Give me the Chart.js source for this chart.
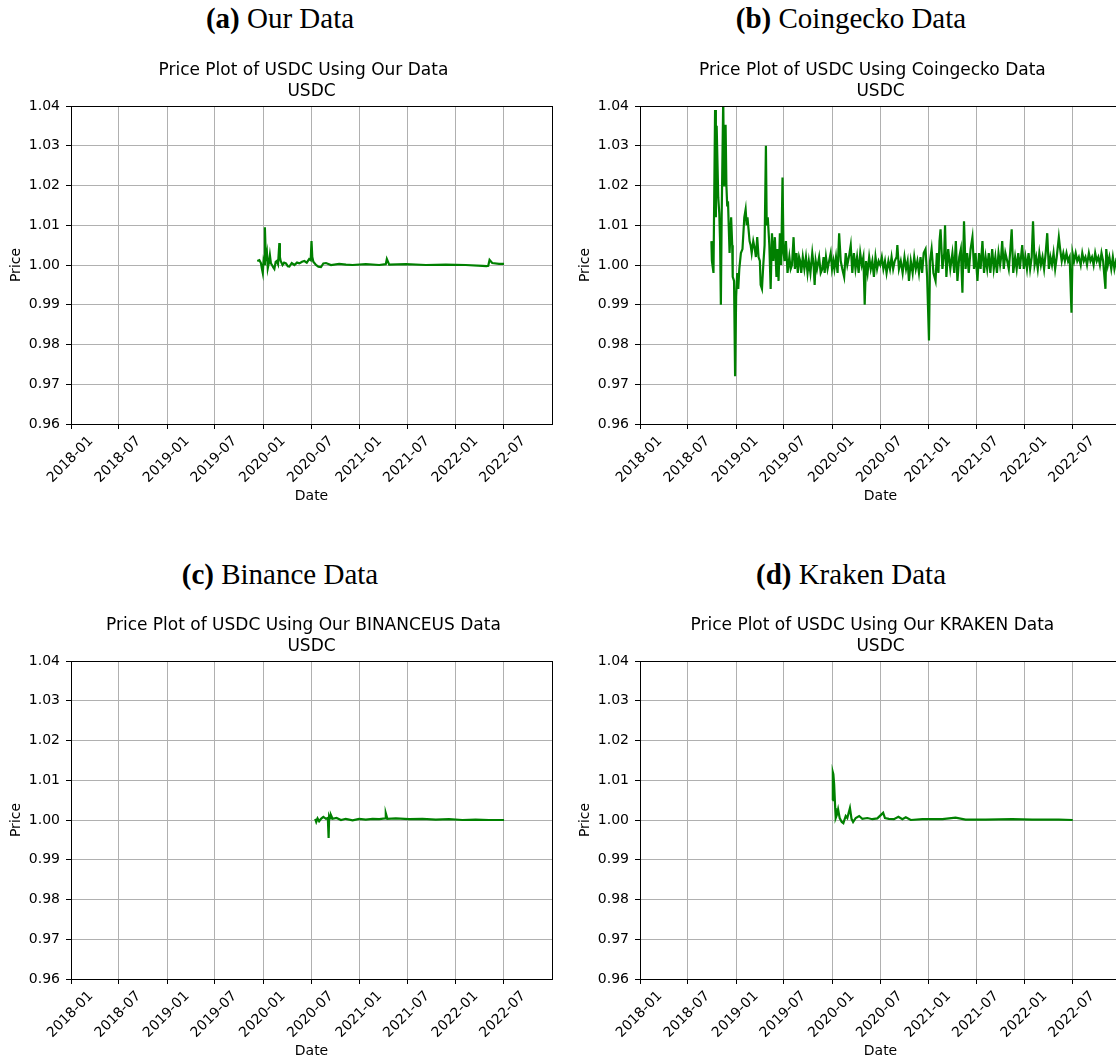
<!DOCTYPE html>
<html>
<head>
<meta charset="utf-8">
<script src="https://cdn.jsdelivr.net/npm/chart.js@4.4.1/dist/chart.umd.min.js"></script>
<style>
  html, body { margin: 0; padding: 0; background: #fff; }
  body { width: 1116px; height: 1061px; position: relative; overflow: hidden; }
  .cap { position: absolute; width: 560px; text-align: center; font-family: "Liberation Serif", "Times New Roman", serif; font-size: 29px; line-height: 34px; color: #000; }
  .panel { position: absolute; width: 560px; height: 460px; }
</style>
</head>
<body>
<div class="cap" style="left:0;top:1px"><b>(a)</b> Our Data</div>
<div class="cap" style="left:571px;top:1px"><b>(b)</b> Coingecko Data</div>
<div class="cap" style="left:0;top:557px"><b>(c)</b> Binance Data</div>
<div class="cap" style="left:571px;top:557px"><b>(d)</b> Kraken Data</div>

<div class="panel" style="left:0;top:50px"><canvas id="chartA" width="560" height="460"></canvas></div>
<div class="panel" style="left:569px;top:50px"><canvas id="chartB" width="560" height="460"></canvas></div>
<div class="panel" style="left:0;top:605px"><canvas id="chartC" width="560" height="460"></canvas></div>
<div class="panel" style="left:569px;top:605px"><canvas id="chartD" width="560" height="460"></canvas></div>

<script>
// axis setup shared by all four panels
const xMin = '2018-01-01';
const xMax = '2023-01-01';
const xTickDates = ['2018-01-01', '2018-07-01', '2019-01-01', '2019-07-01', '2020-01-01',
  '2020-07-01', '2021-01-01', '2021-07-01', '2022-01-01', '2022-07-01'];
const xTickLabels = ['2018-01', '2018-07', '2019-01', '2019-07', '2020-01',
  '2020-07', '2021-01', '2021-07', '2022-01', '2022-07'];
const yTicks = [0.96, 0.97, 0.98, 0.99, 1.00, 1.01, 1.02, 1.03, 1.04];

// (a) our data
const ourDates = [
  '2019-12-09', '2019-12-17', '2019-12-23', '2019-12-27', '2019-12-30',
  '2020-01-02', '2020-01-05', '2020-01-07', '2020-01-11', '2020-01-15',
  '2020-01-18', '2020-01-22', '2020-01-26', '2020-01-30', '2020-02-03',
  '2020-02-08', '2020-02-12', '2020-02-17', '2020-02-21', '2020-02-26',
  '2020-03-02', '2020-03-04', '2020-03-07', '2020-03-14', '2020-03-20',
  '2020-03-27', '2020-04-03', '2020-04-09', '2020-04-18', '2020-04-28',
  '2020-05-08', '2020-05-17', '2020-05-27', '2020-06-05', '2020-06-14',
  '2020-06-23', '2020-06-29', '2020-07-02', '2020-07-05', '2020-07-09',
  '2020-07-19', '2020-07-28', '2020-08-07', '2020-08-16', '2020-08-26',
  '2020-09-14', '2020-10-15', '2020-11-10', '2020-12-05', '2021-01-24',
  '2021-03-16', '2021-04-10', '2021-04-14', '2021-04-23', '2021-06-25',
  '2021-09-09', '2021-11-24', '2022-02-07', '2022-04-12', '2022-04-27',
  '2022-05-04', '2022-05-09', '2022-05-19', '2022-06-14', '2022-07-03'];
const ourPrices = [
  1.0010, 1.0012, 1.0005, 0.9990, 0.9980,
  1.0010, 1.0002, 1.0095, 1.0010, 1.0028,
  0.9992, 1.0005, 1.0025, 1.0004, 1.0000,
  0.9994, 0.9990, 1.0008, 1.0010, 1.0002,
  1.0055, 1.0020, 1.0010, 1.0000, 1.0006,
  1.0004, 0.9997, 0.9996, 1.0005, 1.0000,
  1.0006, 1.0004, 1.0008, 1.0010, 1.0006,
  1.0015, 1.0012, 1.0060, 1.0020, 1.0008,
  1.0000, 0.9996, 0.9995, 1.0004, 1.0005,
  1.0000, 1.0003, 1.0001, 1.0000, 1.0002,
  1.0000, 1.0002, 1.0015, 1.0001, 1.0002,
  1.0000, 1.0001, 1.0000, 0.9998, 0.9997,
  0.9998, 1.0013, 1.0005, 1.0003, 1.0003];

// (b) coingecko, one month per line
const cgDates = [
  '2018-09-29',
  '2018-10-01', '2018-10-07', '2018-10-13', '2018-10-16', '2018-10-19', '2018-10-25', '2018-10-29',
  '2018-11-01', '2018-11-04', '2018-11-07', '2018-11-13', '2018-11-16', '2018-11-19', '2018-11-22', '2018-11-25', '2018-11-28',
  '2018-12-01', '2018-12-07', '2018-12-13', '2018-12-17', '2018-12-19', '2018-12-24', '2018-12-28',
  '2019-01-01', '2019-01-05', '2019-01-09', '2019-01-13', '2019-01-19', '2019-01-25',
  '2019-02-01', '2019-02-06', '2019-02-10', '2019-02-13', '2019-02-17', '2019-02-21', '2019-02-25',
  '2019-03-01', '2019-03-07', '2019-03-13', '2019-03-17', '2019-03-22', '2019-03-27',
  '2019-04-01', '2019-04-04', '2019-04-09', '2019-04-14', '2019-04-19', '2019-04-24', '2019-04-27',
  '2019-05-01', '2019-05-07', '2019-05-12', '2019-05-17', '2019-05-22', '2019-05-28',
  '2019-06-03', '2019-06-07', '2019-06-11', '2019-06-16', '2019-06-21', '2019-06-26', '2019-06-30',
  '2019-07-04', '2019-07-09', '2019-07-15', '2019-07-22', '2019-07-27',
  '2019-08-01', '2019-08-07', '2019-08-12', '2019-08-18', '2019-08-23', '2019-08-28',
  '2019-09-01', '2019-09-05', '2019-09-11', '2019-09-17', '2019-09-23', '2019-09-29',
  '2019-10-04', '2019-10-10', '2019-10-17', '2019-10-22', '2019-10-26', '2019-10-30',
  '2019-11-04', '2019-11-12', '2019-11-18', '2019-11-24', '2019-11-29',
  '2019-12-03', '2019-12-08', '2019-12-14', '2019-12-20', '2019-12-26', '2019-12-31',
  '2020-01-05', '2020-01-09', '2020-01-15', '2020-01-21', '2020-01-27',
  '2020-02-02', '2020-02-08', '2020-02-15', '2020-02-21', '2020-02-27',
  '2020-03-04', '2020-03-11', '2020-03-17', '2020-03-23', '2020-03-29',
  '2020-04-04', '2020-04-10', '2020-04-16', '2020-04-22', '2020-04-28',
  '2020-05-03', '2020-05-08', '2020-05-14', '2020-05-20', '2020-05-26',
  '2020-06-01', '2020-06-07', '2020-06-13', '2020-06-19', '2020-06-25',
  '2020-07-01', '2020-07-07', '2020-07-13', '2020-07-19', '2020-07-25',
  '2020-08-01', '2020-08-07', '2020-08-13', '2020-08-19', '2020-08-25',
  '2020-09-01', '2020-09-04', '2020-09-10', '2020-09-17', '2020-09-24',
  '2020-10-01', '2020-10-07', '2020-10-13', '2020-10-18', '2020-10-25',
  '2020-11-01', '2020-11-07', '2020-11-13', '2020-11-19', '2020-11-25',
  '2020-12-01', '2020-12-07', '2020-12-13', '2020-12-20', '2020-12-26',
  '2021-01-02', '2021-01-06', '2021-01-12', '2021-01-19', '2021-01-27',
  '2021-02-01', '2021-02-07', '2021-02-11', '2021-02-15', '2021-02-22',
  '2021-03-01', '2021-03-04', '2021-03-09', '2021-03-16', '2021-03-24',
  '2021-04-01', '2021-04-08', '2021-04-14', '2021-04-20', '2021-04-27',
  '2021-05-03', '2021-05-09', '2021-05-15', '2021-05-21', '2021-05-27',
  '2021-06-02', '2021-06-09', '2021-06-16', '2021-06-22', '2021-06-28',
  '2021-07-05', '2021-07-11', '2021-07-17', '2021-07-24', '2021-07-30',
  '2021-08-05', '2021-08-11', '2021-08-17', '2021-08-23', '2021-08-30',
  '2021-09-05', '2021-09-11', '2021-09-17', '2021-09-23', '2021-09-29',
  '2021-10-03', '2021-10-07', '2021-10-13', '2021-10-19', '2021-10-26',
  '2021-11-01', '2021-11-06', '2021-11-12', '2021-11-18', '2021-11-25',
  '2021-12-01', '2021-12-07', '2021-12-13', '2021-12-22', '2021-12-28',
  '2022-01-03', '2022-01-09', '2022-01-15', '2022-01-21', '2022-01-27',
  '2022-02-01', '2022-02-07', '2022-02-13', '2022-02-19', '2022-02-25',
  '2022-03-03', '2022-03-09', '2022-03-15', '2022-03-21', '2022-03-27',
  '2022-04-02', '2022-04-08', '2022-04-14', '2022-04-20', '2022-04-26',
  '2022-05-02', '2022-05-10', '2022-05-15', '2022-05-21', '2022-05-27',
  '2022-06-02', '2022-06-08', '2022-06-14', '2022-06-20', '2022-06-27',
  '2022-07-01', '2022-07-07', '2022-07-13', '2022-07-19', '2022-07-25',
  '2022-08-01', '2022-08-07', '2022-08-13', '2022-08-19', '2022-08-25',
  '2022-09-01', '2022-09-07', '2022-09-13', '2022-09-19', '2022-09-25',
  '2022-10-01', '2022-10-07', '2022-10-13', '2022-10-19', '2022-10-25',
  '2022-11-03', '2022-11-06', '2022-11-12', '2022-11-18', '2022-11-25',
  '2022-12-01', '2022-12-07', '2022-12-13', '2022-12-19', '2022-12-25', '2022-12-31'];
const cgPrices = [
  1.006,
  1.001, 0.998, 1.039, 1.012, 1.035, 1.017, 1.013,
  1.006, 0.990, 1.012, 1.042, 1.020, 1.035, 1.035, 1.020, 1.015,
  1.016, 1.003, 1.012, 1.005, 0.997, 0.996, 0.972,
  0.992, 0.998, 0.994, 0.999, 1.003, 1.004,
  1.012, 1.014, 1.010, 1.012, 1.009, 1.006, 1.005,
  1.003, 1.006, 1.004, 1.002, 1.007, 1.002,
  1.001, 0.995, 0.994, 1.000, 1.005, 1.030, 1.010,
  1.012, 1.005, 0.994, 1.008, 1.001, 1.007,
  0.997, 1.004, 0.996, 1.008, 1.000, 1.022, 1.003,
  1.001, 1.006, 0.998, 1.002, 0.999,
  1.000, 1.007, 0.999, 1.003, 0.998, 1.002,
  1.001, 0.998, 1.002, 0.999, 1.002, 0.998,
  1.001, 0.998, 1.003, 1.000, 0.995, 1.001,
  0.999, 1.002, 0.998, 0.999, 1.002,
  0.998, 1.002, 0.999, 1.001, 1.003, 0.999,
  1.001, 0.999, 1.002, 0.998, 1.008,
  1.001, 0.999, 0.997, 1.003, 1.000,
  1.002, 1.005, 0.998, 1.003, 0.999,
  1.002, 0.998, 1.003, 1.000, 1.002,
  0.990, 1.001, 0.998, 1.002, 0.999,
  1.001, 0.997, 1.002, 0.999, 1.001,
  1.000, 1.002, 0.999, 1.001, 0.998,
  1.001, 0.999, 1.002, 0.999, 1.001,
  1.002, 1.005, 0.999, 1.001, 0.998,
  1.002, 0.999, 1.001, 0.996, 1.001,
  0.998, 1.002, 0.999, 1.001, 0.998,
  1.002, 0.998, 1.003, 1.004, 0.997,
  0.981, 1.001, 1.004, 0.998, 0.996,
  1.003, 0.998, 1.006, 1.009, 0.999,
  1.003, 1.010, 0.997, 1.004, 0.999,
  1.003, 0.998, 1.006, 0.996, 1.002,
  1.004, 0.993, 1.011, 0.999, 1.003,
  0.998, 1.004, 1.007, 0.999, 1.003,
  0.996, 1.003, 0.999, 1.006, 0.998,
  1.002, 0.999, 1.003, 0.998, 1.004,
  0.999, 1.002, 0.998, 1.003, 1.000,
  1.002, 1.006, 0.999, 1.003, 1.001,
  0.999, 1.003, 1.009, 0.998, 1.002,
  0.999, 1.003, 0.999, 1.005, 0.999,
  1.002, 0.999, 1.003, 0.999, 1.002,
  1.011, 1.000, 1.002, 0.999, 1.003,
  1.000, 1.002, 0.999, 1.003, 1.008,
  0.999, 1.002, 1.000, 1.003, 0.999,
  1.002, 1.007, 1.004, 1.001, 1.003,
  1.001, 1.003, 1.001, 1.002, 0.988,
  1.003, 1.001, 1.003, 1.001, 1.002,
  1.000, 1.003, 1.001, 1.002, 1.000,
  1.003, 1.001, 1.002, 1.000, 1.003,
  1.001, 1.002, 1.000, 1.003, 1.001,
  0.994, 1.004, 1.000, 1.002, 0.999,
  1.002, 0.999, 1.001, 1.000, 1.002, 1.000];

// (c) binance.us
const bnDates = [
  '2020-07-16', '2020-07-20', '2020-07-25', '2020-07-31', '2020-08-07',
  '2020-08-16', '2020-08-26', '2020-09-02', '2020-09-05', '2020-09-07',
  '2020-09-11', '2020-09-14', '2020-09-20', '2020-10-05', '2020-10-22',
  '2020-11-09', '2020-12-05', '2020-12-30', '2021-01-24', '2021-02-19',
  '2021-03-16', '2021-04-08', '2021-04-10', '2021-04-16', '2021-05-18',
  '2021-07-08', '2021-08-27', '2021-10-17', '2021-12-06', '2022-01-26',
  '2022-03-17', '2022-05-07', '2022-07-03'];
const bnPrices = [
  1.0003, 0.9995, 1.0004, 0.9997, 1.0003,
  1.0008, 1.0003, 1.0005, 0.9955, 1.0010,
  1.0004, 1.0012, 1.0003, 1.0005, 1.0000,
  1.0003, 0.9999, 1.0003, 1.0001, 1.0003,
  1.0002, 1.0004, 1.0017, 1.0003, 1.0004,
  1.0002, 1.0003, 1.0001, 1.0002, 1.0000,
  1.0001, 1.0000, 1.0000];

// (d) kraken
const krDates = [
  '2020-01-01', '2020-01-03', '2020-01-05', '2020-01-08', '2020-01-12',
  '2020-01-14', '2020-01-18', '2020-01-23', '2020-01-29', '2020-02-06',
  '2020-02-12', '2020-02-21', '2020-02-27', '2020-03-08', '2020-03-14',
  '2020-03-20', '2020-03-30', '2020-04-12', '2020-04-24', '2020-05-13',
  '2020-06-01', '2020-06-20', '2020-07-12', '2020-07-19', '2020-08-03',
  '2020-08-22', '2020-09-08', '2020-09-23', '2020-10-06', '2020-10-25',
  '2020-12-08', '2021-02-22', '2021-04-13', '2021-05-21', '2021-08-05',
  '2021-11-14', '2022-01-29', '2022-05-10', '2022-07-02'];
const krPrices = [
  1.0050, 1.0120, 1.0115, 1.0090, 1.0030,
  1.0005, 1.0012, 1.0027, 1.0005, 0.9995,
  0.9992, 1.0010, 1.0005, 1.0030, 1.0003,
  0.9995, 1.0005, 1.0010, 1.0003, 1.0005,
  1.0002, 1.0004, 1.0018, 1.0005, 1.0003,
  1.0002, 1.0008, 1.0002, 1.0007, 1.0000,
  1.0002, 1.0002, 1.0006, 1.0001, 1.0001,
  1.0002, 1.0001, 1.0001, 1.0000];

Chart.defaults.font.family = '"DejaVu Sans", sans-serif';
Chart.defaults.font.size = 14;
Chart.defaults.color = '#000';

function series(dates, prices) {
  return dates.map((d, i) => ({ x: Date.parse(d), y: prices[i] }));
}

// matplotlib style frame around the plot area
const frame = {
  id: 'frame',
  afterDraw(chart) {
    const { ctx, chartArea: a } = chart;
    ctx.save();
    ctx.strokeStyle = '#000';
    ctx.lineWidth = 1;
    ctx.strokeRect(Math.round(a.left) + 0.5, Math.round(a.top) + 0.5,
      Math.round(a.right - a.left), Math.round(a.bottom - a.top));
    ctx.restore();
  }
};

function makeChart(id, title, dates, prices) {
  return new Chart(document.getElementById(id), {
    type: 'line',
    data: {
      datasets: [{
        data: series(dates, prices),
        borderColor: '#008000',
        borderWidth: 2.2,
        pointRadius: 0,
        tension: 0,
        clip: 0
      }]
    },
    options: {
      responsive: false,
      animation: false,
      devicePixelRatio: 1,
      layout: { padding: { top: 10, right: 8, bottom: 5, left: 0 } },
      plugins: {
        legend: { display: false },
        tooltip: { enabled: false },
        title: {
          display: true,
          fullSize: false,
          // the first line of the original title sits a little left of centre
          text: [title + '   ', 'USDC'],
          color: '#000',
          font: { size: 17, weight: 'normal', lineHeight: 1.25 },
          padding: { top: 0, bottom: 3.5 }
        }
      },
      scales: {
        x: {
          type: 'linear',
          min: Date.parse(xMin),
          max: Date.parse(xMax),
          afterFit: s => { s.height = 81; },
          afterBuildTicks: s => { s.ticks = xTickDates.map(d => ({ value: Date.parse(d) })); },
          ticks: {
            autoSkip: false,
            minRotation: 45,
            maxRotation: 45,
            labelOffset: 20,
            padding: 4,
            callback: (v, i) => xTickLabels[i]
          },
          grid: { color: '#b0b0b0', lineWidth: 1, tickColor: '#000', tickLength: 5 },
          border: { display: false },
          title: { display: true, text: 'Date', padding: 0 }
        },
        y: {
          min: 0.96,
          max: 1.04,
          afterFit: s => { s.width = 71; },
          afterBuildTicks: s => { s.ticks = yTicks.map(v => ({ value: v })); },
          ticks: { padding: 6, callback: v => v.toFixed(2) },
          grid: { color: '#b0b0b0', lineWidth: 1, tickColor: '#000', tickLength: 5 },
          border: { display: false },
          title: { display: true, text: 'Price', padding: { top: 8, bottom: 0 } }
        }
      }
    },
    plugins: [frame]
  });
}

makeChart('chartA', 'Price Plot of USDC Using Our Data', ourDates, ourPrices);
makeChart('chartB', 'Price Plot of USDC Using Coingecko Data', cgDates, cgPrices);
makeChart('chartC', 'Price Plot of USDC Using Our BINANCEUS Data', bnDates, bnPrices);
makeChart('chartD', 'Price Plot of USDC Using Our KRAKEN Data', krDates, krPrices);
</script>
</body>
</html>
